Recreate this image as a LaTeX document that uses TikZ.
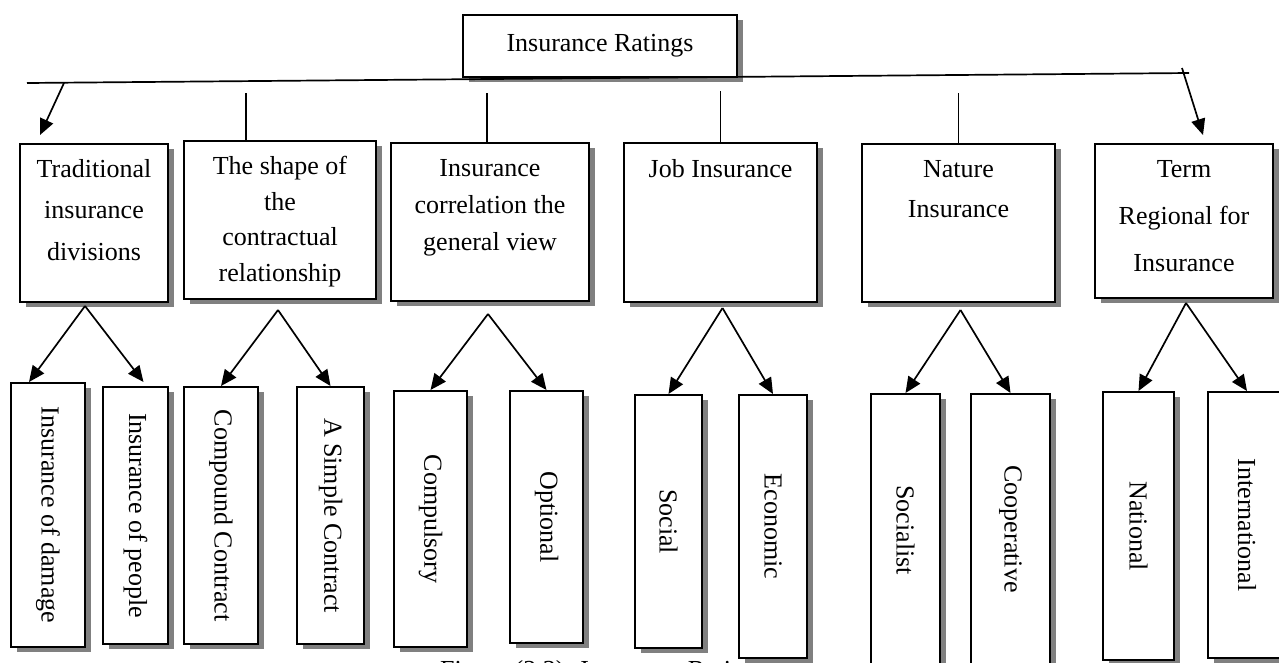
\documentclass[tikz,border=0pt]{standalone}
\usepackage{fontspec}
\setmainfont{Liberation Serif}
\usepackage{tikz}
\usetikzlibrary{arrows.meta,positioning,shadows}
\definecolor{shadegray}{HTML}{808080}
\tikzset{
  ar/.style={-{Triangle[length=16pt,width=14pt]},line width=1.7pt},
  ln/.style={line width=1.7pt},
  box/.style={draw,line width=2pt,fill=white,inner sep=0pt,
    drop shadow={shadow xshift=6pt,shadow yshift=-5pt,fill=shadegray,opacity=1}},
  cattext/.style={align=center,inner sep=0pt,font=\fontsize{26}{#1}\selectfont},
  cattext/.default=42
}
\begin{document}
\begin{tikzpicture}[x=1pt,y=-1pt,font=\fontsize{26}{31}\selectfont]
\useasboundingbox (0,0) rectangle (1279,662);
\clip (0,0) rectangle (1279,662);
% caption, mostly cut off at the bottom
\node[anchor=base west,inner sep=0pt] (cap) at (440,678) {Figure (2.3): Insurance Ratings};
% root
\node[box,minimum width=274pt,minimum height=62pt] (rate) at (600,46) {Insurance Ratings};
\coordinate (barL) at (27,83);
\coordinate (barR) at (1189,73);
\coordinate (barA) at (64,83);
\coordinate (barB) at (1182,68);
\draw[ln] (barL) -- (barR);
% categories
\node[box,minimum width=148pt,minimum height=158pt] (trad) at (94,223) {};
\node[box,minimum width=192pt,minimum height=158pt] (shape) at (280,220) {};
\node[box,minimum width=198pt,minimum height=158pt] (corr) at (490,222) {};
\node[box,minimum width=193pt,minimum height=159pt] (job) at (720.5,222.5) {};
\node[box,minimum width=193pt,minimum height=158pt] (nat) at (958.5,223) {};
\node[box,minimum width=178pt,minimum height=154pt] (term) at (1184,221) {};
\node[cattext=41.5,below=16pt of trad.north] (tradtxt) {Traditional\\insurance\\divisions};
\node[cattext=35.7,below=16pt of shape.north] (shapetxt) {The shape of\\the\\contractual\\relationship};
\node[cattext=37,below=17pt of corr.north] (corrtxt) {Insurance\\correlation the\\general view};
\node[cattext,below=17pt of job.north] (jobtxt) {Job Insurance};
\node[cattext=40,below=17pt of nat.north] (nattxt) {Nature\\Insurance};
\node[cattext=47,below=17pt of term.north] (termtxt) {Term\\Regional for\\Insurance};
\draw[ar] (barA) -- ([shift={(21pt,8pt)}]trad.north west);
\draw[ar] (barB) -- ([shift={(19pt,8pt)}]term.north);
\draw[ln] ([xshift=-34pt]shape.north) -- ++(0,-47);
\draw[ln] ([xshift=-3pt]corr.north) -- ++(0,-49);
\draw[ln] (job.north) -- ++(0,-51);
\draw[ln] (nat.north) -- ++(0,-50);
% leaves
\node[box,minimum width=74pt,minimum height=264pt] (ldam) at (48,515) {\rotatebox{-90}{Insurance of damage}};
\node[box,minimum width=65pt,minimum height=257pt] (lpeo) at (135.5,515.5) {\rotatebox{-90}{Insurance of people}};
\node[box,minimum width=74pt,minimum height=257pt] (lcom) at (221,515.5) {\rotatebox{-90}{Compound Contract}};
\node[box,minimum width=67pt,minimum height=257pt] (lsim) at (330.5,515.5) {\rotatebox{-90}{A Simple Contract}};
\node[box,minimum width=73pt,minimum height=256pt] (lcmp) at (430.5,519) {\rotatebox{-90}{Compulsory}};
\node[box,minimum width=73pt,minimum height=252pt] (lopt) at (546.5,517) {\rotatebox{-90}{Optional}};
\node[box,minimum width=67pt,minimum height=253pt] (lsoc) at (668.5,521.5) {\rotatebox{-90}{Social}};
\node[box,minimum width=68pt,minimum height=263pt] (leco) at (773,526.5) {\rotatebox{-90}{Economic}};
\node[box,minimum width=69pt,minimum height=272pt] (lsct) at (905.5,530) {\rotatebox{-90}{Socialist}};
\node[box,minimum width=79pt,minimum height=270pt] (lcoo) at (1010.5,529) {\rotatebox{-90}{Cooperative}};
\node[box,minimum width=71pt,minimum height=268pt] (lnat) at (1138.5,526) {\rotatebox{-90}{National}};
\node[box,minimum width=78pt,minimum height=266pt] (lint) at (1247,525) {\rotatebox{-90}{International}};
% forks
\coordinate (tradfork) at ([shift={(-9pt,-3pt)}]trad.south);
\coordinate (shapefork) at ([shift={(-2pt,-10pt)}]shape.south);
\coordinate (corrfork) at ([shift={(-2pt,-12pt)}]corr.south);
\coordinate (jobfork) at ([shift={(2pt,-5pt)}]job.south);
\coordinate (natfork) at ([shift={(2pt,-7pt)}]nat.south);
\coordinate (termfork) at ([shift={(2pt,-4pt)}]term.south);
\draw[ar] (tradfork) -- ([xshift=-19pt]ldam.north);
\draw[ar] (tradfork) -- ([shift={(8pt,4pt)}]lpeo.north);
\draw[ar] (shapefork) -- (lcom.north);
\draw[ar] (shapefork) -- (lsim.north);
\draw[ar] (corrfork) -- (lcmp.north);
\draw[ar] (corrfork) -- (lopt.north);
\draw[ar] (jobfork) -- (lsoc.north);
\draw[ar] (jobfork) -- (leco.north);
\draw[ar] (natfork) -- (lsct.north);
\draw[ar] (natfork) -- (lcoo.north);
\draw[ar] (termfork) -- (lnat.north);
\draw[ar] (termfork) -- (lint.north);
\end{tikzpicture}
\end{document}
